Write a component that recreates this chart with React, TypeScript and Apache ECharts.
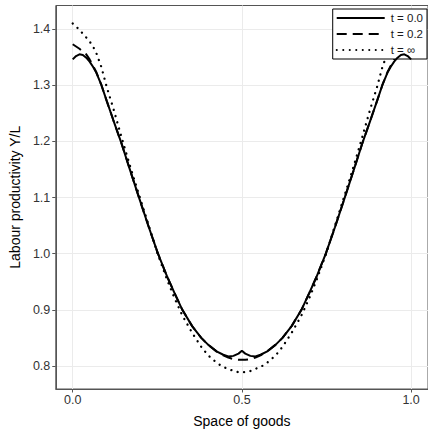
import React, { useEffect, useRef } from "react";
import * as echarts from "echarts";

const xs = [
  0, 0.01, 0.02, 0.03, 0.04, 0.05, 0.06, 0.07, 0.085, 0.1, 0.12, 0.145, 0.17, 0.197, 0.225, 0.252,
  0.28, 0.3, 0.324, 0.353, 0.38, 0.4, 0.425, 0.445, 0.46, 0.475, 0.49, 0.5,
  0.51, 0.525, 0.54, 0.555, 0.575, 0.6, 0.62, 0.647, 0.676, 0.7, 0.72, 0.748, 0.775, 0.803,
  0.83, 0.855, 0.88, 0.9, 0.915, 0.93, 0.94, 0.95, 0.96, 0.97, 0.98, 0.99, 1.0,
];

const t00 = [
  1.346, 1.352, 1.355, 1.354, 1.349, 1.342, 1.333, 1.322, 1.3, 1.273, 1.238, 1.195, 1.148, 1.098, 1.047, 1.0,
  0.958, 0.931, 0.9, 0.871, 0.85, 0.838, 0.826, 0.82, 0.817, 0.818, 0.822, 0.827,
  0.822, 0.818, 0.817, 0.82, 0.826, 0.838, 0.85, 0.871, 0.9, 0.931, 0.958, 1.0, 1.047, 1.098,
  1.148, 1.195, 1.238, 1.273, 1.3, 1.322, 1.333, 1.342, 1.349, 1.354, 1.355, 1.352, 1.346,
];

const t02 = [
  1.373, 1.369, 1.365, 1.36, 1.355, 1.346, 1.335, 1.323, 1.3, 1.273, 1.238, 1.195, 1.148, 1.098, 1.047, 1.0,
  0.958, 0.931, 0.9, 0.871, 0.85, 0.838, 0.826, 0.819, 0.815, 0.812, 0.811, 0.811,
  0.811, 0.812, 0.815, 0.819, 0.826, 0.838, 0.85, 0.871, 0.9, 0.931, 0.958, 1.0, 1.047, 1.098,
  1.148, 1.195, 1.238, 1.273, 1.3, 1.323, 1.335, 1.346, 1.355, 1.36, 1.365, 1.369, 1.373,
];

const tInf = [
  1.41, 1.405, 1.398, 1.392, 1.385, 1.378, 1.369, 1.357, 1.332, 1.298, 1.259, 1.206, 1.155, 1.103, 1.05, 0.998,
  0.952, 0.922, 0.89, 0.859, 0.834, 0.819, 0.806, 0.798, 0.795, 0.791, 0.789, 0.789,
  0.789, 0.791, 0.795, 0.798, 0.806, 0.819, 0.834, 0.859, 0.89, 0.922, 0.952, 0.998, 1.05, 1.103,
  1.155, 1.206, 1.259, 1.298, 1.332, 1.357, 1.369, 1.378, 1.385, 1.392, 1.398, 1.405, 1.41,
];

const seriesNames = ["t = 0.0", "t = 0.2", "t = \u221e"];
const xTicks = [0, 0.5, 1];
const yTicks = [0.8, 0.9, 1.0, 1.1, 1.2, 1.3, 1.4];

const FONT = "Liberation Sans, Arial, Helvetica, sans-serif";

export default function App() {
  const ref = useRef<HTMLDivElement>(null);
  useEffect(() => {
    if (!ref.current) return;
    const chart = echarts.init(ref.current, null, { renderer: "svg" });
    const pairs = (ys: number[]) => xs.map((x, i) => [x, ys[i]]);
    chart.setOption({
      animation: false,
      backgroundColor: "#ffffff",
      textStyle: { fontFamily: FONT },
      grid: {
        left: 51,
        right: -3,
        top: 5.5,
        bottom: 44,
        show: true,
        borderColor: "#555555",
        borderWidth: 1,
        backgroundColor: "transparent",
      },
      legend: {
        orient: "vertical",
        right: 1,
        top: 9,
        padding: [3, 4, 3, 3],
        itemWidth: 48,
        itemHeight: 12,
        itemGap: 4,
        backgroundColor: "#ffffff",
        borderColor: "#000000",
        borderWidth: 1,
        borderRadius: 0,
        itemStyle: { opacity: 0 },
        textStyle: { fontSize: 11.5, color: "#1a1a1a", fontFamily: FONT, padding: [0, 0, 0, 1] },
        data: seriesNames,
      },
      xAxis: {
        type: "value",
        min: -0.05,
        max: 1.05,
        name: "Space of goods",
        nameLocation: "middle",
        nameGap: 25,
        nameTextStyle: { fontSize: 14, color: "#000000", fontFamily: FONT },
        axisLine: { show: true, onZero: false, lineStyle: { color: "#555555", width: 1 } },
        axisTick: { show: true, length: 3.5, lineStyle: { color: "#555555" }, customValues: xTicks },
        axisLabel: {
          fontSize: 12.5,
          color: "#333333",
          margin: 4,
          customValues: xTicks,
          formatter: (v: number) => v.toFixed(1),
        },
        splitLine: { show: true, lineStyle: { color: "#ebebeb", width: 1 } },
      },
      yAxis: {
        type: "value",
        min: 0.759,
        max: 1.442,
        name: "Labour productivity Y/L",
        nameLocation: "middle",
        nameGap: 21,
        nameTextStyle: { fontSize: 14, color: "#000000", fontFamily: FONT },
        axisLine: { show: true, onZero: false, lineStyle: { color: "#555555", width: 1 } },
        axisTick: { show: true, length: 3.5, lineStyle: { color: "#555555" }, customValues: yTicks },
        axisLabel: {
          fontSize: 12.5,
          color: "#333333",
          margin: 5.5,
          customValues: yTicks,
          formatter: (v: number) => v.toFixed(1),
        },
        splitLine: { show: true, lineStyle: { color: "#ebebeb", width: 1 } },
      },
      series: [
        {
          name: seriesNames[0],
          type: "line",
          data: pairs(t00),
          symbol: "none",
          z: 4,
          lineStyle: { color: "#000000", width: 2, type: "solid" },
          itemStyle: { color: "#000000" },
        },
        {
          name: seriesNames[1],
          type: "line",
          data: pairs(t02),
          symbol: "none",
          z: 3,
          lineStyle: { color: "#000000", width: 2, type: [10, 6] },
          itemStyle: { color: "#000000" },
        },
        {
          name: seriesNames[2],
          type: "line",
          data: pairs(tInf),
          symbol: "none",
          z: 2,
          lineStyle: { color: "#000000", width: 2.3, type: [0.1, 6.4], cap: "round" },
          itemStyle: { color: "#000000" },
        },
      ],
    });
    return () => chart.dispose();
  }, []);
  return <div ref={ref} style={{ width: 428, height: 433, position: "absolute", left: 0, top: 0 }} />;
}
